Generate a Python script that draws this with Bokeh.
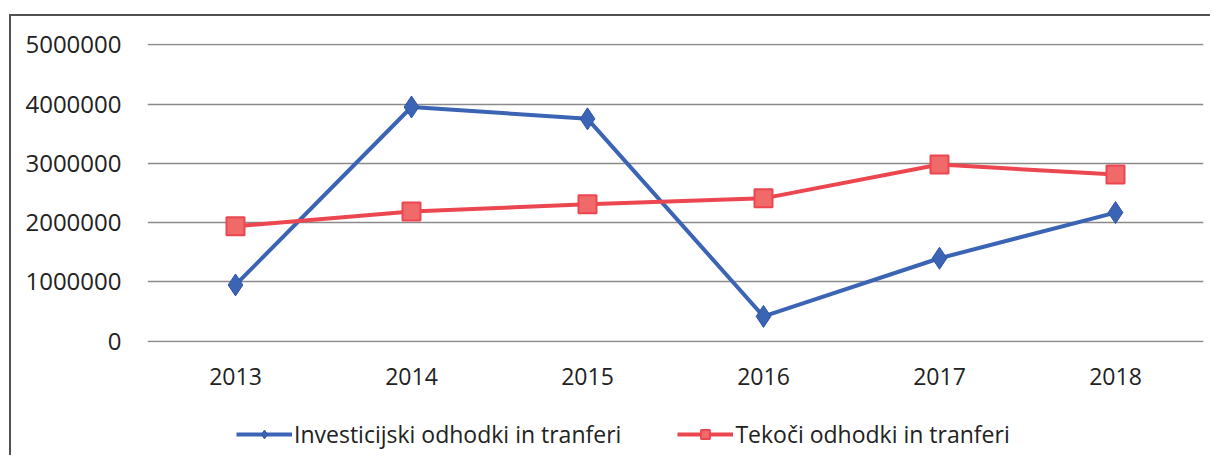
from bokeh.plotting import figure
from bokeh.layouts import column
from bokeh.models import FactorRange, Range1d, Legend, LegendItem, NumeralTickFormatter, FixedTicker
from bokeh.embed import file_html
from bokeh.resources import INLINE

years = ["2013", "2014", "2015", "2016", "2017", "2018"]
investicijski = [950000, 3950000, 3750000, 420000, 1400000, 2170000]
tekoci = [1940000, 2190000, 2310000, 2410000, 2980000, 2810000]
y_ticks = [0, 1000000, 2000000, 3000000, 4000000, 5000000]
series_names = ["Investicijski odhodki in tranferi", "Tekoči odhodki in tranferi"]

FONT = "Open Sans"
BLUE = "#3b64b4"
RED = "#ec4650"
MFILL = "#f06a6a"
TXT = "#222222"

# offsets: content starts at x=11, y=16 (after margin + border)
OX, OY = 11, 16
FRAME_LEFT = 147

p = figure(
    width=1210 - OX, height=395 - OY,
    x_range=FactorRange(*years, range_padding=0),
    y_range=Range1d(-20000, 5020000),
    output_backend="svg", toolbar_location=None,
    min_border_left=FRAME_LEFT - OX, min_border_right=7, min_border_top=43 - OY, min_border_bottom=53,
)
p.outline_line_color = None
p.background_fill_color = "white"
p.border_fill_color = "white"

p.line(years, investicijski, line_color=BLUE, line_width=4)
p.scatter(years, investicijski, marker="diamond", size=22, fill_color=BLUE, line_color="#2d55a5", line_width=1)
p.line(years, tekoci, line_color=RED, line_width=4)
p.scatter(years, tekoci, marker="square", size=18, fill_color=MFILL, line_color=RED, line_width=2)

p.yaxis.ticker = FixedTicker(ticks=y_ticks)
p.yaxis.formatter = NumeralTickFormatter(format="0")
for ax in (p.xaxis[0], p.yaxis[0]):
    ax.axis_line_color = None
    ax.major_tick_line_color = None
    ax.minor_tick_line_color = None
    ax.major_label_text_font = FONT
    ax.major_label_text_color = TXT
p.yaxis.major_label_text_font_size = "24px"
p.xaxis.major_label_text_font_size = "23px"
p.yaxis.major_label_standoff = 20
p.xaxis.major_label_standoff = 19

p.xgrid.grid_line_color = None
p.ygrid.grid_line_color = "#8a8a8a"
p.ygrid.grid_line_width = 1.5

# legend strip: same series, plotted outside its visible y-range so only the legend shows
lg = figure(
    width=1210 - OX, height=60,
    x_range=FactorRange(*years, range_padding=0), y_range=Range1d(-3, -2),
    output_backend="svg", toolbar_location=None,
    x_axis_location=None, y_axis_location=None,
    min_border_left=0, min_border_right=0, min_border_top=0, min_border_bottom=0,
)
lg.outline_line_color = None
lg.xgrid.grid_line_color = None
lg.ygrid.grid_line_color = None
lg.background_fill_color = "white"
r1 = lg.line(years, investicijski, line_color=BLUE, line_width=4)
m1 = lg.scatter(years, investicijski, marker="diamond", size=22, fill_color=BLUE, line_color="#2d55a5", line_width=1)
r2 = lg.line(years, tekoci, line_color=RED, line_width=4)
m2 = lg.scatter(years, tekoci, marker="square", size=18, fill_color=MFILL, line_color=RED, line_width=2)

legend = Legend(
    items=[LegendItem(label=series_names[0], renderers=[r1, m1]),
           LegendItem(label=series_names[1], renderers=[r2, m2])],
    orientation="horizontal", location=(236 - FRAME_LEFT, 5),
    label_text_font=FONT, label_text_font_size="23px", label_text_color=TXT,
    glyph_width=56, glyph_height=22, label_standoff=2, spacing=56,
    border_line_color=None, background_fill_alpha=0, padding=0, margin=0,
)
lg.add_layout(legend)

layout = column(p, lg, spacing=0)
layout.styles = {
    "border-left": "2px solid #505050",
    "border-top": "2px solid #505050",
    "border-right": "0",
    "border-bottom": "0",
    "margin-left": "9px",
    "margin-top": "14px",
}

open("out.html", "w").write(file_html(layout, INLINE))
